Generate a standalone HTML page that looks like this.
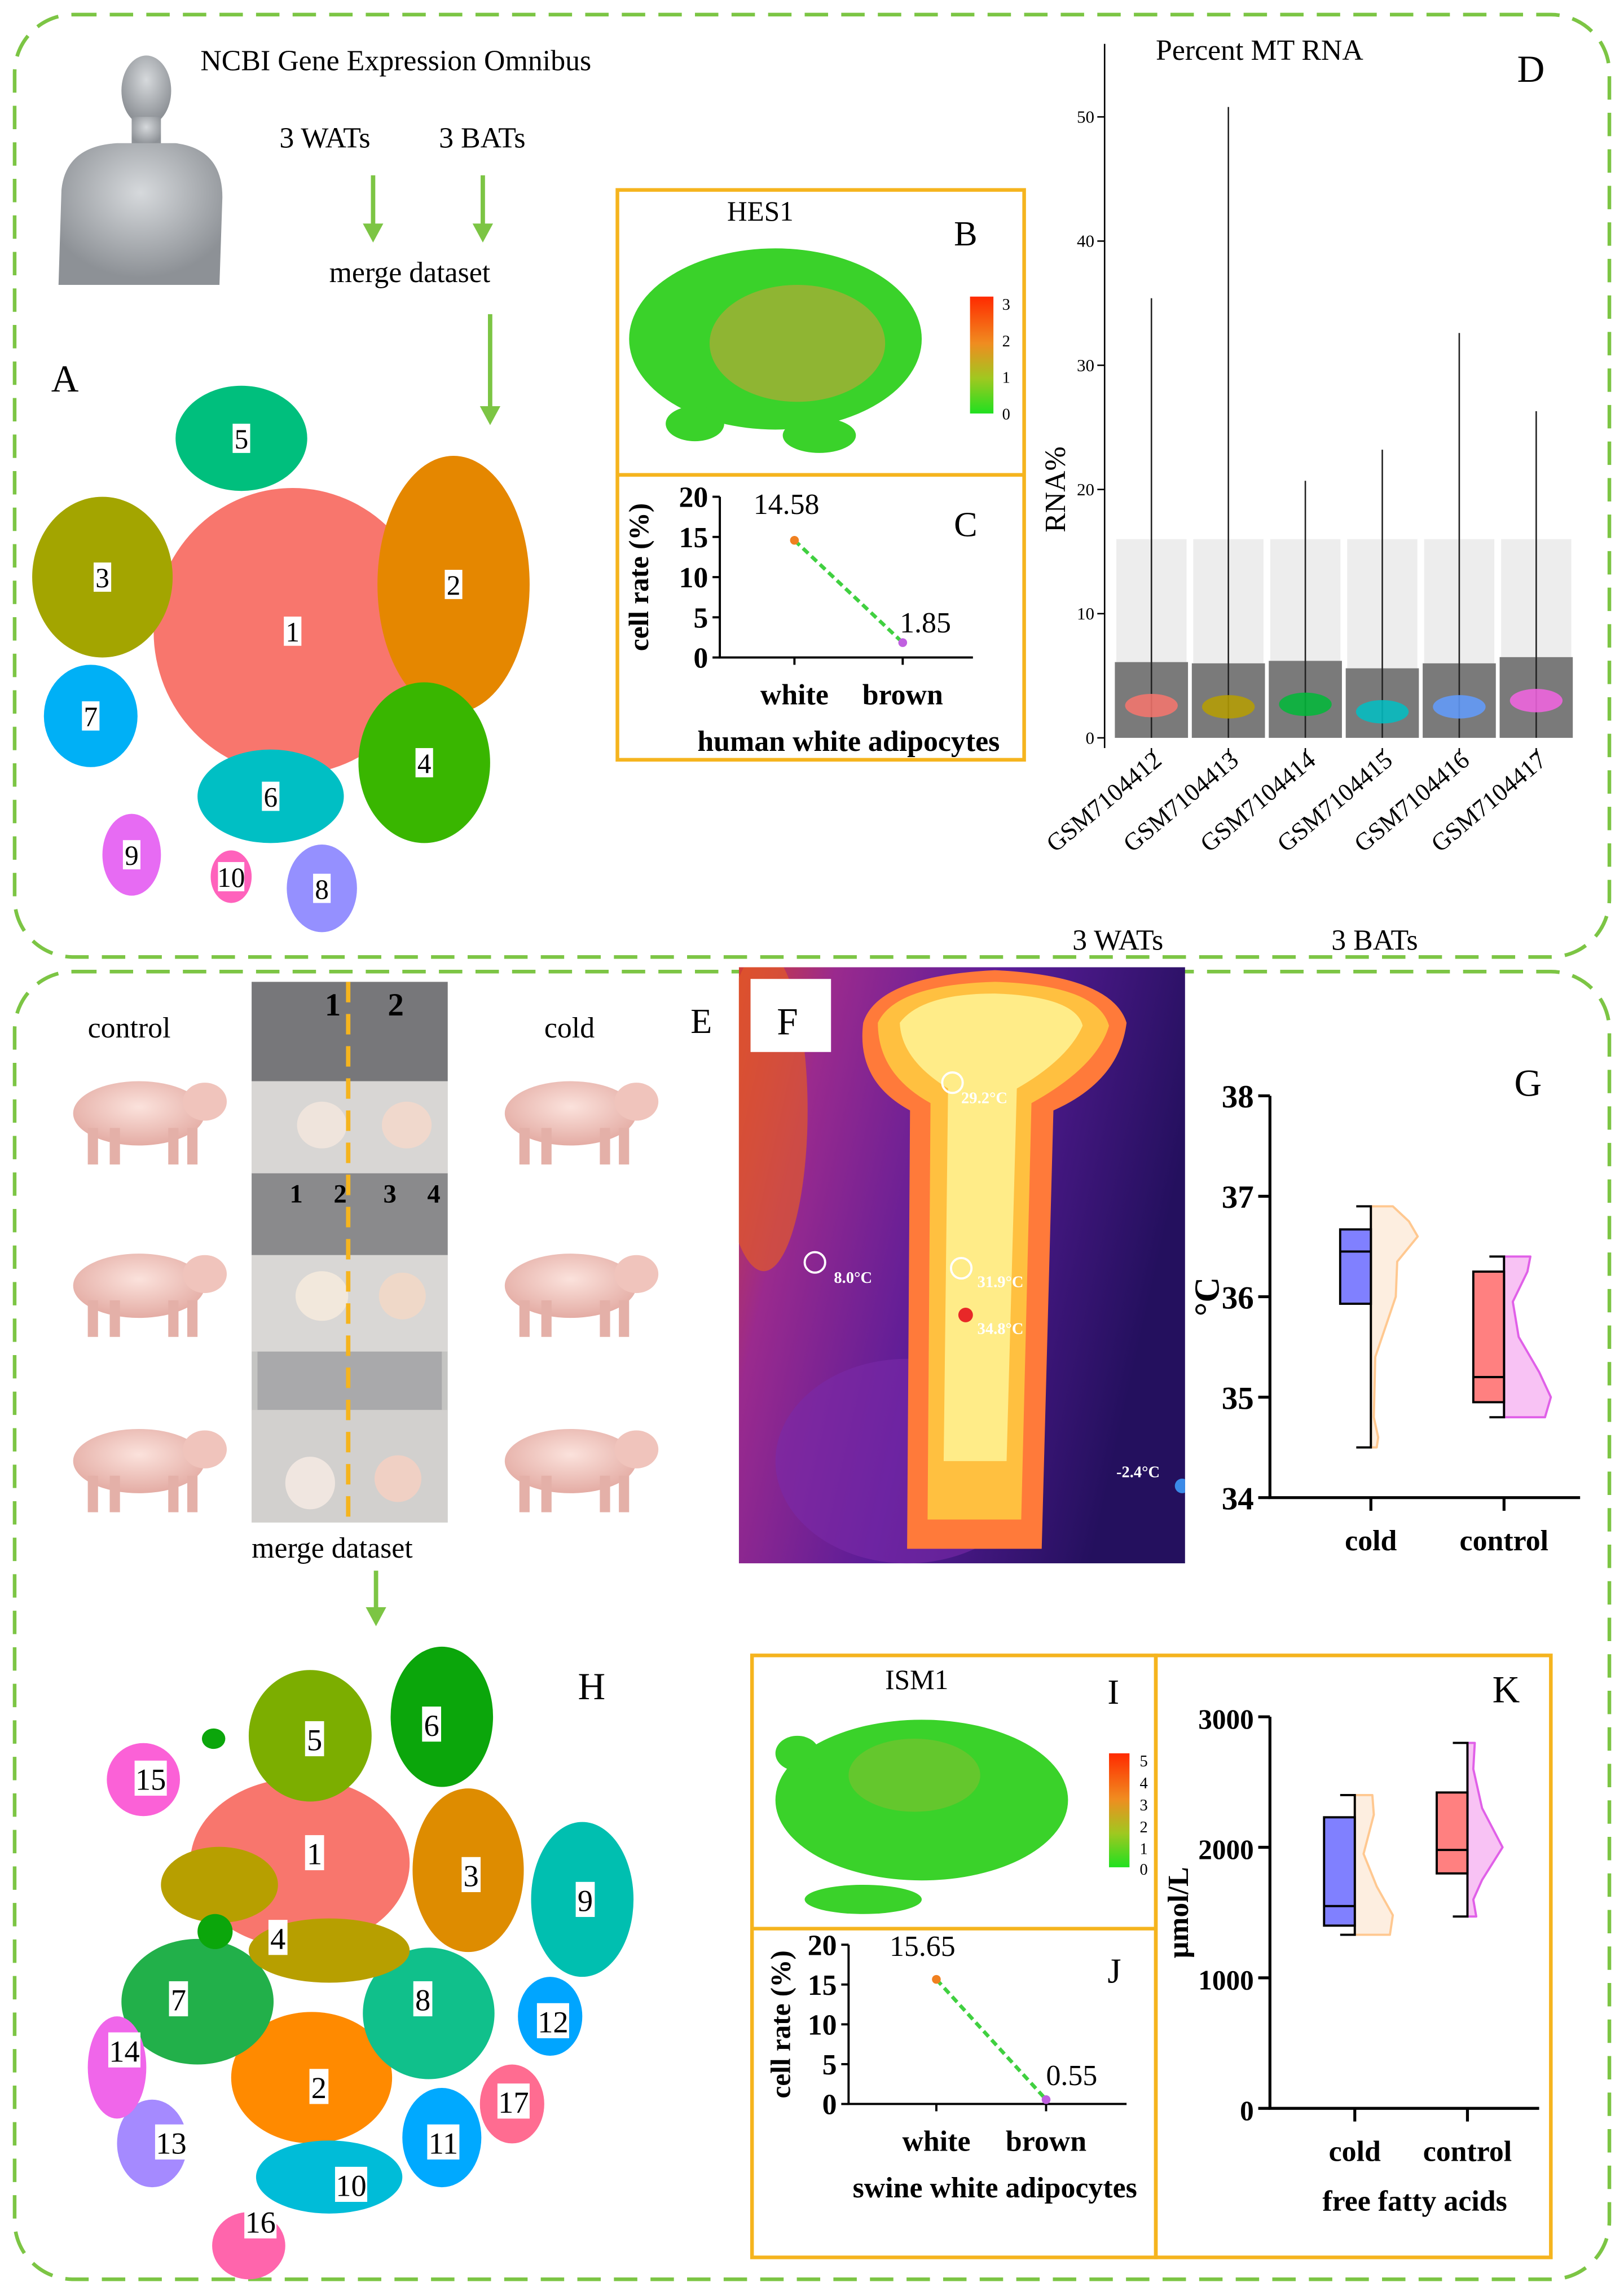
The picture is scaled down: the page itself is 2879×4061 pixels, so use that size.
<!DOCTYPE html>
<html><head><meta charset="utf-8"><style>
html,body{margin:0;padding:0;background:#fff;}
svg{display:block;}
text{font-family:"Liberation Serif",serif;}
</style></head><body>
<svg id="fig" xmlns="http://www.w3.org/2000/svg" width="2879" height="4061" viewBox="0 0 1110 1568" preserveAspectRatio="none">
<defs>
<linearGradient id="cbar" x1="0" y1="0" x2="0" y2="1"><stop offset="0" stop-color="#ff2a00"/><stop offset="0.4" stop-color="#f08c20"/><stop offset="0.7" stop-color="#a0c820"/><stop offset="1" stop-color="#20e020"/></linearGradient>
<linearGradient id="thermbg" x1="0" y1="0" x2="1" y2="0.3"><stop offset="0" stop-color="#d23e35"/><stop offset="0.2" stop-color="#9a2a8e"/><stop offset="0.55" stop-color="#5a1c98"/><stop offset="1" stop-color="#24105e"/></linearGradient>
<radialGradient id="human" cx="0.5" cy="0.35" r="0.6"><stop offset="0" stop-color="#d6d9dc"/><stop offset="1" stop-color="#8d9196"/></radialGradient>
<radialGradient id="pig" cx="0.5" cy="0.4" r="0.6"><stop offset="0" stop-color="#fbe2dc"/><stop offset="1" stop-color="#e4aca4"/></radialGradient>
<clipPath id="thermclip"><rect x="505" y="662" width="305" height="408"/></clipPath>
</defs>
<rect x="10" y="10" width="1090" height="645" rx="40" fill="none" stroke="#7cc544" stroke-width="2.5" stroke-dasharray="16,9"/>
<rect x="10" y="665" width="1090" height="895" rx="40" fill="none" stroke="#7cc544" stroke-width="2.5" stroke-dasharray="16,9"/>

<g fill="url(#human)">
<ellipse cx="100" cy="62" rx="17" ry="24"/>
<rect x="90" y="80" width="20" height="20"/>
<path d="M40 195 L42 130 Q45 100 80 98 L120 98 Q152 102 152 135 L150 195 Z"/>
</g>
<text x="137" y="48" font-size="20">NCBI Gene Expression Omnibus</text>
<text x="191" y="101" font-size="20">3 WATs</text>
<text x="300" y="101" font-size="20">3 BATs</text>
<g stroke="#7cc544" stroke-width="3" fill="#7cc544">
<line x1="255" y1="120" x2="255" y2="155"/><path d="M248 153 L262 153 L255 166 Z" stroke="none"/>
<line x1="330" y1="120" x2="330" y2="155"/><path d="M323 153 L337 153 L330 166 Z" stroke="none"/>
<line x1="335" y1="215" x2="335" y2="280"/><path d="M328 278 L342 278 L335 291 Z" stroke="none"/>
</g>
<text x="225" y="193" font-size="20">merge dataset</text>
<text x="35" y="268" font-size="26">A</text>
<g id="tsneA"></g>

<rect x="422" y="130" width="278" height="390" fill="none" stroke="#f5b41e" stroke-width="2.5"/>
<line x1="422" y1="325" x2="700" y2="325" stroke="#f5b41e" stroke-width="2.5"/>
<text x="497" y="151" font-size="19">HES1</text>
<text x="652" y="168" font-size="24">B</text>
<g>
<ellipse cx="530" cy="232" rx="100" ry="62" fill="#3ad22a"/>
<ellipse cx="545" cy="235" rx="60" ry="40" fill="#b4a838" opacity="0.7"/>
<ellipse cx="475" cy="290" rx="20" ry="12" fill="#3ad22a"/>
<ellipse cx="560" cy="298" rx="25" ry="12" fill="#3ad22a"/>
</g>
<rect x="663" y="203" width="16" height="80" fill="url(#cbar)"/>
<g font-size="11" font-family="Liberation Sans">
<text x="685" y="212">3</text><text x="685" y="237">2</text><text x="685" y="262">1</text><text x="685" y="287">0</text></g>
<text x="652" y="367" font-size="24">C</text>
<g id="chartC"></g>

<text x="790" y="41" font-size="20">Percent MT RNA</text>
<text x="1037" y="56" font-size="26">D</text>
<g id="chartD"></g>
<text x="733" y="650" font-size="20">3 WATs</text>
<text x="910" y="650" font-size="20">3 BATs</text>

<text x="60" y="710" font-size="20">control</text>
<text x="372" y="710" font-size="20">cold</text>
<g id="pigs"></g>
<g>
<rect x="172" y="672" width="134" height="370" fill="#c4c4c2"/>
<rect x="172" y="672" width="134" height="68" fill="#77777a"/>
<rect x="172" y="803" width="134" height="56" fill="#8a8a8c"/>
<rect x="176" y="925" width="126" height="40" fill="#a9a9ab"/>
<rect x="172" y="740" width="134" height="63" fill="#d8d6d4"/>
<rect x="172" y="859" width="134" height="66" fill="#d9d7d5"/>
<rect x="172" y="965" width="134" height="77" fill="#d2d0ce"/>
<ellipse cx="220" cy="770" rx="17" ry="16" fill="#efe4dc"/><ellipse cx="278" cy="770" rx="17" ry="16" fill="#f0d8cc"/>
<ellipse cx="220" cy="887" rx="18" ry="17" fill="#f2e8dc"/><ellipse cx="275" cy="887" rx="16" ry="16" fill="#efd8c8"/>
<ellipse cx="212" cy="1015" rx="17" ry="18" fill="#f0e6e0"/><ellipse cx="272" cy="1012" rx="16" ry="16" fill="#f0d0c4"/>
<text x="222" y="695" font-size="22" font-weight="bold">1</text><text x="265" y="695" font-size="22" font-weight="bold">2</text>
<text x="198" y="823" font-size="18" font-weight="bold">1</text><text x="228" y="823" font-size="18" font-weight="bold">2</text><text x="262" y="823" font-size="18" font-weight="bold">3</text><text x="292" y="823" font-size="18" font-weight="bold">4</text>
<line x1="238" y1="672" x2="238" y2="1042" stroke="#f5b41e" stroke-width="3" stroke-dasharray="14,8"/>
</g>
<text x="172" y="1066" font-size="20">merge dataset</text>
<g><line x1="257" y1="1075" x2="257" y2="1102" stroke="#7cc544" stroke-width="3"/><path d="M250 1100 L264 1100 L257 1113 Z" fill="#7cc544"/></g>
<text x="472" y="707" font-size="24">E</text>

<g clip-path="url(#thermclip)">
<rect x="505" y="662" width="305" height="408" fill="url(#thermbg)"/>
<ellipse cx="522" cy="760" rx="30" ry="110" fill="#e25a28" opacity="0.7"/>
<ellipse cx="620" cy="1000" rx="90" ry="70" fill="#7a2aa8" opacity="0.6"/>
<path d="M590 700 Q600 668 680 664 Q760 668 770 700 Q765 740 720 760 L712 1060 L620 1060 L622 760 Q585 740 590 700 Z" fill="#ff7a3a"/>
<path d="M600 700 Q612 674 680 672 Q750 674 758 702 Q750 730 705 755 L698 1040 L634 1040 L636 755 Q600 735 600 700 Z" fill="#ffc040"/>
<path d="M615 700 Q630 680 680 680 Q735 682 740 702 Q730 725 695 745 L688 1000 L645 1000 L648 745 Q616 725 615 700 Z" fill="#ffec88"/>
<circle cx="651" cy="741" r="7" fill="none" stroke="#fff" stroke-width="1.5"/>
<circle cx="557" cy="864" r="7" fill="none" stroke="#fff" stroke-width="1.5"/>
<circle cx="657" cy="868" r="7" fill="none" stroke="#fff" stroke-width="1.5"/>
<circle cx="660" cy="900" r="5" fill="#e82828"/>
<circle cx="808" cy="1017" r="5" fill="#3a8ae8"/>
<g font-family="Liberation Sans" font-size="11" fill="#fff" font-weight="bold">
<text x="657" y="755">29.2°C</text><text x="570" y="878">8.0°C</text><text x="668" y="881">31.9°C</text><text x="668" y="913">34.8°C</text><text x="763" y="1011">-2.4°C</text></g>
<rect x="513" y="670" width="55" height="50" fill="#fff"/>
<text x="531" y="708" font-size="26">F</text>
</g>

<g id="chartG"></g>
<text x="1035" y="750" font-size="26">G</text>

<text x="395" y="1163" font-size="26">H</text>
<g id="tsneH"></g>

<rect x="514" y="1133" width="276" height="412" fill="none" stroke="#f5b41e" stroke-width="2.5"/>
<line x1="514" y1="1320" x2="790" y2="1320" stroke="#f5b41e" stroke-width="2.5"/>
<rect x="790" y="1133" width="270" height="412" fill="none" stroke="#f5b41e" stroke-width="2.5"/>
<text x="605" y="1156" font-size="19">ISM1</text>
<text x="757" y="1166" font-size="24">I</text>
<g>
<ellipse cx="630" cy="1232" rx="100" ry="55" fill="#3ad22a"/>
<ellipse cx="625" cy="1215" rx="45" ry="25" fill="#80c030" opacity="0.6"/>
<ellipse cx="545" cy="1200" rx="15" ry="12" fill="#3ad22a"/>
<ellipse cx="590" cy="1300" rx="40" ry="10" fill="#3ad22a"/>
</g>
<rect x="758" y="1200" width="14" height="78" fill="url(#cbar)"/>
<g font-size="11" font-family="Liberation Sans">
<text x="779" y="1209">5</text><text x="779" y="1224">4</text><text x="779" y="1239">3</text><text x="779" y="1254">2</text><text x="779" y="1269">1</text><text x="779" y="1283">0</text></g>
<text x="757" y="1357" font-size="24">J</text>
<g id="chartJ"></g>
<text x="1020" y="1165" font-size="26">K</text>
<g id="chartK"></g>
</svg>
<script>
const dSamples = ["GSM7104412","GSM7104413","GSM7104414","GSM7104415","GSM7104416","GSM7104417"];
const dMax = [35.4, 50.8, 20.7, 23.2, 32.6, 26.3];
const dMedian = [2.6, 2.5, 2.7, 2.1, 2.5, 3.0];
const dTicks = [0, 10, 20, 30, 40, 50];
const cCats = ["white","brown"];
const cVals = [14.58, 1.85];
const cTicks = [0, 5, 10, 15, 20];
const jCats = ["white","brown"];
const jVals = [15.65, 0.55];
const jTicks = [0, 5, 10, 15, 20];
const gCats = ["cold","control"];
const gMin = [34.5, 34.8];
const gQ1 = [35.93, 34.95];
const gMed = [36.45, 35.2];
const gQ3 = [36.67, 36.25];
const gMax = [36.9, 36.4];
const gTicks = [34, 35, 36, 37, 38];
const kCats = ["cold","control"];
const kMin = [1330, 1470];
const kQ1 = [1400, 1800];
const kMed = [1550, 1980];
const kQ3 = [2230, 2420];
const kMaxV = [2400, 2800];
const kTicks = [0, 1000, 2000, 3000];
const gViolinCold = [[36.9,15],[36.75,26],[36.6,32],[36.35,18],[36.0,17],[35.7,10],[35.4,3],[34.8,2],[34.6,5],[34.5,4]];
const gViolinCtrl = [[36.4,18],[36.25,16],[35.95,6],[35.6,10],[35.25,24],[35.0,32],[34.8,28]];
const kViolinCold = [[2400,12],[2250,13],[1950,6],[1700,15],[1480,26],[1330,24]];
const kViolinCtrl = [[2800,5],[2600,4],[2300,10],[2000,24],[1750,10],[1600,4],[1470,6]];
const tsneAIds = ["1","2","3","4","5","6","7","8","9","10"];
const tsneACx = [200,310,70,290,165,185,62,220,90,158];
const tsneACy = [432,400,395,522,300,545,490,608,585,600];
const tsneARx = [95,52,48,45,45,50,32,24,20,14];
const tsneARy = [98,88,55,55,36,32,35,30,28,18];
const tsneAColor = ["#f8766d","#e58700","#a3a500","#39b600","#00bf7d","#00bfc4","#00b0f6","#9590ff","#e76bf3","#ff62bc"];
const tsneHIds = ["1","2","3","4","5","6","7","8","9","10","11","12","13","14","15","16","17"];
const tsneHCx = [205,213,320,150,212,302,135,293,398,225,302,376,104,80,98,170,350];
const tsneHCy = [1275,1422,1280,1290,1188,1175,1370,1378,1300,1490,1463,1380,1467,1415,1218,1537,1440];
const tsneHRx = [75,55,38,40,42,35,52,45,35,50,27,22,24,20,25,25,22];
const tsneHRy = [58,45,56,26,45,48,43,45,53,25,34,27,30,35,25,23,27];
const tsneHColor = ["#f8766d","#ff8a00","#de8c00","#b79f00","#7cae00","#0ba60b","#22b04a","#10c08b","#00bfb0","#00bcd8","#00a9ff","#00a5ff","#a58aff","#f066ea","#fb61d7","#ff65ac","#ff6c91"];
const tsneHLabelX = [215,218,322,190,215,295,122,289,400,240,303,378,117,85,103,178,351];
const tsneHLabelY = [1268,1428,1283,1326,1190,1180,1368,1368,1300,1495,1466,1383,1466,1403,1217,1520,1438];

const NS = "http://www.w3.org/2000/svg";
function mk(parent, tag, attrs, txt){const e=document.createElementNS(NS,tag);for(const k in attrs)e.setAttribute(k,attrs[k]);if(txt!==undefined)e.textContent=txt;parent.appendChild(e);return e;}

(function(){
const g=document.getElementById('tsneA');
tsneAIds.forEach((id,i)=>{
 const el=mk(g,'ellipse',{cx:tsneACx[i],cy:tsneACy[i],rx:tsneARx[i],ry:tsneARy[i],fill:tsneAColor[i]});
 
 
});
tsneAIds.forEach((id,i)=>{
 const w=id.length>1?18:12;
 const bg=mk(g,'rect',{x:tsneACx[i]-w/2,y:tsneACy[i]-10,width:w,height:20,fill:'#fff'});
 
 
 const t=mk(g,'text',{x:tsneACx[i],y:tsneACy[i]+7,'text-anchor':'middle','font-size':19},id);
 
 
});
})();

(function(){
const g=document.getElementById('tsneH');
tsneHIds.forEach((id,i)=>{
 const el=mk(g,'ellipse',{cx:tsneHCx[i],cy:tsneHCy[i],rx:tsneHRx[i],ry:tsneHRy[i],fill:tsneHColor[i]});
 
 
});
const extra1=mk(g,'ellipse',{cx:225,cy:1335,rx:55,ry:22,fill:'#b79f00'});


const extra2=mk(g,'ellipse',{cx:147,cy:1322,rx:12,ry:12,fill:'#0ba60b'});


const extra3=mk(g,'ellipse',{cx:146,cy:1190,rx:8,ry:7,fill:'#0ba60b'});


tsneHIds.forEach((id,i)=>{
 const w=id.length>1?22:13;
 const bg=mk(g,'rect',{x:tsneHLabelX[i]-w/2,y:tsneHLabelY[i]-12,width:w,height:24,fill:'#fff'});
 
 
 const t=mk(g,'text',{x:tsneHLabelX[i],y:tsneHLabelY[i]+8,'text-anchor':'middle','font-size':21},id);
 
 
});
})();

(function(){
const g=document.getElementById('pigs');
const px=[100,100,100,395,395,395], py=[762,880,1000,762,880,1000];
px.forEach((x,i)=>{
 const p=mk(g,'g',{});
 
 
 mk(p,'ellipse',{cx:x-5,cy:py[i],rx:45,ry:22,fill:'url(#pig)'});
 mk(p,'ellipse',{cx:x+40,cy:py[i]-8,rx:15,ry:13,fill:'#f0c4bc'});
 mk(p,'rect',{x:x-40,y:py[i]+10,width:7,height:25,fill:'#e4b0a8'});
 mk(p,'rect',{x:x-25,y:py[i]+10,width:7,height:25,fill:'#e4b0a8'});
 mk(p,'rect',{x:x+15,y:py[i]+10,width:7,height:25,fill:'#e4b0a8'});
 mk(p,'rect',{x:x+28,y:py[i]+10,width:7,height:25,fill:'#e4b0a8'});
});
})();

function dotChart(gid, cats, vals, ticks, o){
 const g=document.getElementById(gid);
 const y=v=>o.y0-(v-ticks[0])/(ticks[ticks.length-1]-ticks[0])*(o.y0-o.y1);
 const xs=cats.map((c,i)=>o.xc[i]);
 const ax=mk(g,'path',{d:`M${o.ax} ${o.y1} V${o.y0} H${o.xe}`,fill:'none',stroke:'#000','stroke-width':1.5});
 
 
 ticks.forEach(t=>{
  const tl=mk(g,'line',{x1:o.ax-5,x2:o.ax,y1:y(t),y2:y(t),stroke:'#000','stroke-width':1.5});
  
  
  const tx=mk(g,'text',{x:o.ax-8,y:y(t)+7,'text-anchor':'end','font-size':20,'font-weight':'bold'},t);
  
  
 });
 xs.forEach((x,i)=>{
  const tl=mk(g,'line',{x1:x,x2:x,y1:o.y0,y2:o.y0+5,stroke:'#000','stroke-width':1.5});
  
  
  const tx=mk(g,'text',{x:x,y:o.y0+32,'text-anchor':'middle','font-size':20,'font-weight':'bold'},cats[i]);
  
  
 });
 const ln=mk(g,'line',{x1:xs[0],y1:y(vals[0]),x2:xs[1],y2:y(vals[1]),stroke:'#40d040','stroke-width':2.5,'stroke-dasharray':'5,3'});
 
 
 const cols=['#f08020','#c060e0'];
 vals.forEach((v,i)=>{
  const c=mk(g,'circle',{cx:xs[i],cy:y(v),r:3,fill:cols[i]});
  
  
  const t=mk(g,'text',{x:xs[i]+o.lx[i],y:y(v)+o.ly[i],'font-size':20},v.toFixed(2));
  
  
 });
 const yl=mk(g,'text',{x:0,y:0,'font-size':19,'font-weight':'bold','text-anchor':'middle',transform:`translate(${o.ylx},${(o.y0+o.y1)/2}) rotate(-90)`},'cell rate (%)');
 
 
 const xl=mk(g,'text',{x:o.xlx,y:o.y0+64,'font-size':20,'font-weight':'bold','text-anchor':'middle'},o.xt);
 
 
}
dotChart('chartC',cCats,cVals,cTicks,{ax:492,xe:665,y0:450,y1:340,xc:[543,617],lx:[-28,-2],ly:[-18,-7],ylx:443,xlx:580,xt:'human white adipocytes'});
dotChart('chartJ',jCats,jVals,jTicks,{ax:580,xe:770,y0:1440,y1:1331,xc:[640,715],lx:[-32,0],ly:[-16,-10],ylx:540,xlx:680,xt:'swine white adipocytes'});

(function(){
 const g=document.getElementById('chartD');
 const y=v=>505-v*8.5, x=i=>787+i*52.6;
 const cols=['#f8766d','#b79f00','#00ba38','#00bfc4','#619cff','#f564e3'];
 const ax=mk(g,'path',{d:'M755 30 V512',fill:'none',stroke:'#000','stroke-width':1});
 
 
 dTicks.forEach(t=>{
  const tl=mk(g,'line',{x1:750,x2:755,y1:y(t),y2:y(t),stroke:'#000'});
  
  
  const tx=mk(g,'text',{x:748,y:y(t)+4,'text-anchor':'end','font-size':12,'font-family':'Liberation Sans'},t);
  
  
 });
 const yl=mk(g,'text',{x:0,y:0,'font-size':20,'text-anchor':'middle',transform:'translate(728,335) rotate(-90)'},'RNA%');
 
 
 dSamples.forEach((s,i)=>{
  const xi=x(i);
  const faint=mk(g,'rect',{x:xi-24,y:y(16),width:48,height:y(dMedian[i]+3.5)-y(16),fill:'#000',opacity:0.07});
  
  
  const dense=mk(g,'rect',{x:xi-25,y:y(dMedian[i]+3.5),width:50,height:y(0)-y(dMedian[i]+3.5),fill:'#222',opacity:0.6});
  
  
  const vl=mk(g,'line',{x1:xi,x2:xi,y1:y(0),y2:y(dMax[i]),stroke:'#222','stroke-width':1});
  
  
  const vio=mk(g,'ellipse',{cx:xi,cy:y(dMedian[i]),rx:18,ry:8,fill:cols[i],opacity:0.85});
  
  
  const tl=mk(g,'line',{x1:xi,x2:xi,y1:512,y2:517,stroke:'#000'});
  
  
  const tx=mk(g,'text',{x:0,y:0,'font-size':17,'text-anchor':'end',transform:`translate(${xi+8},522) rotate(-40)`},s);
  
  
 });
})();

function boxViolin(gid,cats,mn,q1,md,q3,mx,ticks,violins,o){
 const g=document.getElementById(gid);
 const y=v=>o.y0-(v-ticks[0])/(ticks[ticks.length-1]-ticks[0])*(o.y0-o.y1);
 const ax=mk(g,'path',{d:`M${o.ax} ${o.y1} V${o.y0} H${o.xe}`,fill:'none',stroke:'#000','stroke-width':2});
 
 
 ticks.forEach(t=>{
  const tl=mk(g,'line',{x1:o.ax-8,x2:o.ax,y1:y(t),y2:y(t),stroke:'#000','stroke-width':2});
  
  
  const tx=mk(g,'text',{x:o.ax-11,y:y(t)+8,'text-anchor':'end','font-size':o.fs,'font-weight':'bold'},t);
  
  
 });
 const boxCol=['#8080ff','#ff8080'], vFill=['#fdeee0','#f8c2f4'], vStroke=['#ffc890','#e060e8'];
 cats.forEach((c,i)=>{
  const xc=o.xc[i];
  const tl=mk(g,'line',{x1:xc,x2:xc,y1:o.y0,y2:o.y0+9,stroke:'#000','stroke-width':2});
  
  
  const tx=mk(g,'text',{x:xc,y:o.y0+36,'text-anchor':'middle','font-size':20,'font-weight':'bold'},c);
  
  
  const pts=violins[i];
  let d=`M${xc} ${y(pts[0][0])}`;
  pts.forEach(p=>{d+=` L${xc+p[1]} ${y(p[0])}`;});
  d+=` L${xc} ${y(pts[pts.length-1][0])} Z`;
  const vp=mk(g,'path',{d:d,fill:vFill[i],stroke:vStroke[i],'stroke-width':1.5,'stroke-linejoin':'round'});
  
  
  const wh=mk(g,'path',{d:`M${xc-10} ${y(mx[i])} H${xc} V${y(mn[i])} H${xc-10}`,fill:'none',stroke:'#000','stroke-width':1.5});
  
  
  const bx=mk(g,'rect',{x:xc-21,y:y(q3[i]),width:21,height:y(q1[i])-y(q3[i]),fill:boxCol[i],stroke:'#000','stroke-width':1.5});
  
  
  const ml=mk(g,'line',{x1:xc-21,x2:xc,y1:y(md[i]),y2:y(md[i]),stroke:'#000','stroke-width':1.5});
  
  
 });
 const yl=mk(g,'text',{x:0,y:0,'font-size':o.yfs,'font-weight':'bold','text-anchor':'middle',transform:`translate(${o.ylx},${(o.y0+o.y1)/2}) rotate(-90)`},o.yt);
 
 
 if(o.xt){
  const xl=mk(g,'text',{x:o.xlx,y:o.y0+70,'font-size':20,'font-weight':'bold','text-anchor':'middle'},o.xt);
  
  
 }
}
boxViolin('chartG',gCats,gMin,gQ1,gMed,gQ3,gMax,gTicks,[gViolinCold,gViolinCtrl],{ax:868,xe:1080,y0:1025,y1:750,xc:[937,1028],fs:22,yfs:24,ylx:833,yt:'°C'});
boxViolin('chartK',kCats,kMin,kQ1,kMed,kQ3,kMaxV,kTicks,[kViolinCold,kViolinCtrl],{ax:868,xe:1052,y0:1443,y1:1175,xc:[926,1003],fs:19,yfs:20,ylx:812,yt:'μmol/L',xt:'free fatty acids',xlx:967});
</script>
</body></html>
